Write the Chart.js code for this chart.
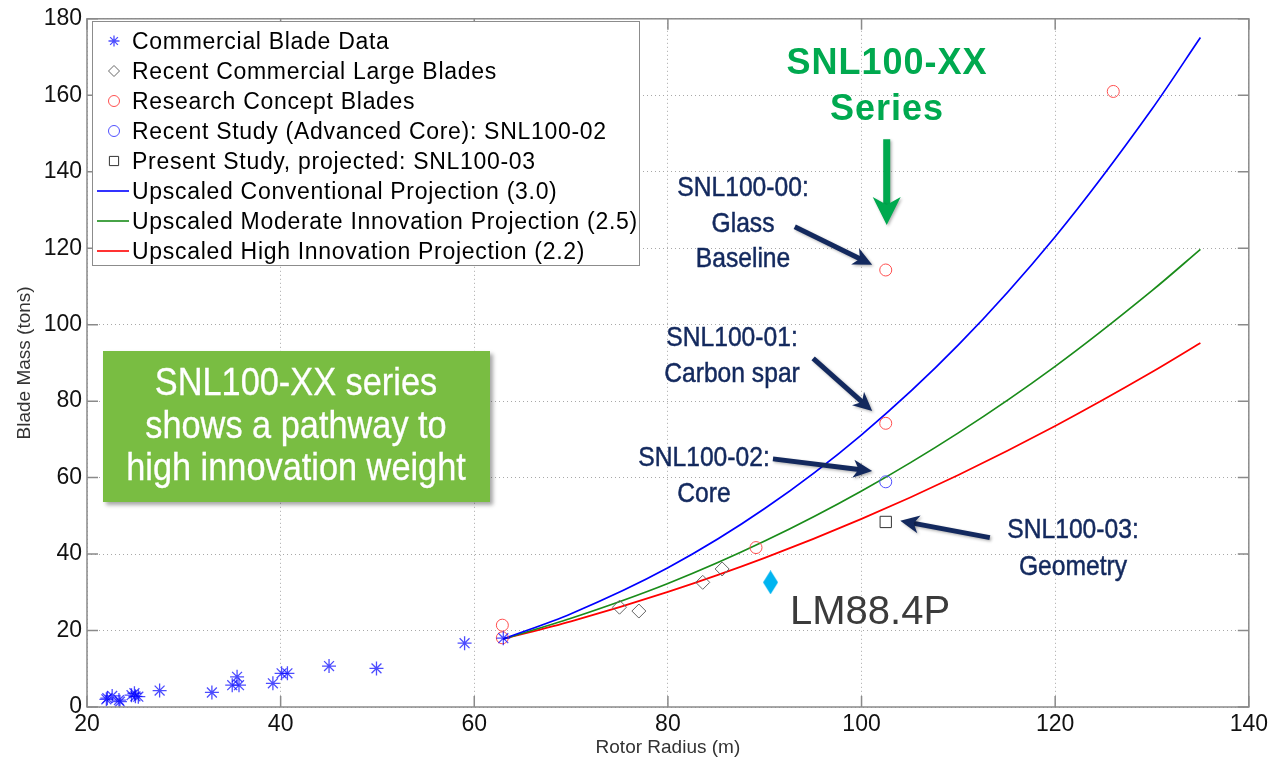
<!DOCTYPE html>
<html>
<head>
<meta charset="utf-8">
<title>Blade Mass vs Rotor Radius</title>
<script src="https://cdn.jsdelivr.net/npm/chart.js@4.4.1/dist/chart.umd.min.js"></script>
<style>
  html, body { margin: 0; padding: 0; background: #fff; }
  #wrap { position: relative; width: 1272px; height: 757px; overflow: hidden; }
  #chart { position: absolute; left: 0; top: 0; }
  .note {
    position: absolute; text-align: center; white-space: nowrap;
    font-family: "Liberation Sans", Arial, sans-serif;
    transform: translateX(-50%) scaleX(0.88); transform-origin: 50% 50%;
  }
  .navy { color: #13295e; font-size: 28px; line-height: 36px; -webkit-text-stroke: 0.5px #13295e; }
  .series { color: #00a94f; font-size: 36px; line-height: 46px; font-weight: bold; letter-spacing: 1px; transform: translateX(-50%); }
  #callout {
    position: absolute; left: 103px; top: 351px; width: 387px; height: 151px;
    background: #79bd42; box-shadow: 3px 3px 4px rgba(0,0,0,0.35);
  }
  .white { color: #fff; font-size: 39px; line-height: 42.5px; -webkit-text-stroke: 0.3px #fff; }
  #lm { position: absolute; left: 790px; top: 590px; font: 40px/40px "Liberation Sans", Arial, sans-serif; color: #3b3b3b; }
  #legend {
    position: absolute; left: 92px; top: 21px; width: 548px; height: 245px;
    box-sizing: border-box; border: 1px solid #8c8c8c; background: #fff; padding-top: 4px;
  }
  .row { display: flex; align-items: center; height: 30px; }
  .row canvas { display: block; }
  .row span { margin-left: 2px; font: 23px "Liberation Sans", Arial, sans-serif; letter-spacing: 0.7px; color: #000; white-space: nowrap; }
</style>
</head>
<body>
<div id="wrap">
  <canvas id="chart" width="1272" height="757"></canvas>
  <div id="legend"></div>

  <div class="note series" style="left:887px; top:39px;">SNL100-XX<br>Series</div>
  <div class="note navy" style="left:743px; top:169px; line-height:35.5px;">SNL100-00:<br>Glass<br>Baseline</div>
  <div class="note navy" style="left:732px; top:319px;">SNL100-01:<br>Carbon spar</div>
  <div class="note navy" style="left:704px; top:439px;">SNL100-02:<br>Core</div>
  <div class="note navy" style="left:1073px; top:510px; line-height:37px;">SNL100-03:<br>Geometry</div>

  <div id="callout"></div>
  <div class="note white" style="left:296px; top:361px;">SNL100-XX series<br>shows a pathway to<br>high innovation weight</div>

  <div id="lm">LM88.4P</div>
</div>

<script>
// axis ticks
const xTicks = [20, 40, 60, 80, 100, 120, 140];
const yTicks = [0, 20, 40, 60, 80, 100, 120, 140, 160, 180];

// commercial blades (rotor radius m, blade mass tons)
const bladeRadius = [22.1, 22.6, 22.0, 23.3, 23.4, 24.6, 24.9, 25.0, 25.3, 27.5, 32.9, 35.0, 35.5, 35.7, 39.2, 40.1, 40.7, 45.0, 49.9, 59.0, 63.0];
const bladeMass   = [2.3, 2.9, 2.0, 1.8, 1.4, 3.1, 3.6, 2.8, 2.7, 4.3, 3.8, 5.7, 7.9, 5.7, 6.2, 8.8, 8.8, 10.7, 10.1, 16.7, 18.0];

const largeRadius = [75.0, 77.0, 83.6, 85.6];
const largeMass   = [26.1, 25.1, 32.6, 36.1];

const conceptRadius = [62.9, 62.9, 89.1, 102.5, 102.5, 126.0];
const conceptMass   = [21.4, 18.1, 41.7, 114.3, 74.2, 161.0];

const coreRadius = [102.5];
const coreMass   = [58.9];

const geometryRadius = [102.5];
const geometryMass   = [48.4];

const lmRadius = [90.6];
const lmMass   = [32.6];

// upscaled projections
const projRadius       = [63, 70, 80, 90, 100, 110, 120, 130, 135];
const conventionalMass = [17.8, 24.4, 36.4, 51.9, 71.2, 94.7, 123.0, 156.4, 175.1];
const moderateMass     = [17.8, 23.2, 32.3, 43.4, 56.5, 71.7, 89.1, 108.9, 119.7];
const highMass         = [17.8, 22.4, 30.1, 39.0, 49.2, 60.7, 73.5, 87.6, 95.2];

// callout arrows, in data units [radius, mass]
const arrows = [
  { from: [93.1, 125.6], to: [101.1, 115.7], color: "#13295e", width: 5, head: 19, half: 9 },
  { from: [95.0, 91.2], to: [101.1, 77.4], color: "#13295e", width: 5, head: 19, half: 9 },
  { from: [90.85, 64.9], to: [101.1, 61.7], color: "#13295e", width: 5, head: 19, half: 9 },
  { from: [113.25, 44.3], to: [104.0, 48.7], color: "#13295e", width: 5, head: 19, half: 9 },
  { from: [102.6, 148.5], to: [102.6, 126.1], color: "#00a94f", width: 7, head: 28, half: 14 }
];

const pts = (xs, ys) => xs.map((x, i) => ({ x, y: ys[i] }));

function makeDiamond(w, h, color) {
  const c = document.createElement("canvas");
  c.width = w; c.height = h;
  const g = c.getContext("2d");
  g.fillStyle = color;
  g.beginPath();
  g.moveTo(w / 2, 0); g.lineTo(w, h / 2); g.lineTo(w / 2, h); g.lineTo(0, h / 2);
  g.closePath(); g.fill();
  return c;
}

const marker = (label, data, style, radius, color, width) => ({
  label, data, pointStyle: style, pointRadius: radius, pointHoverRadius: radius,
  borderColor: color, backgroundColor: "rgba(0,0,0,0)", pointBorderWidth: width, borderWidth: width, showLine: false
});
const curve = (label, data, color) => ({
  label, data, showLine: true, pointRadius: 0, borderColor: color, backgroundColor: color,
  borderWidth: 1.7, cubicInterpolationMode: "monotone", fill: false, pointStyle: "line"
});

const datasets = [
  marker("Commercial Blade Data", pts(bladeRadius, bladeMass), "star", 7, "rgba(0,0,255,0.7)", 1.3),
  marker("Recent Commercial Large Blades", pts(largeRadius, largeMass), "rectRot", 7, "#666", 1),
  marker("Research Concept Blades", pts(conceptRadius, conceptMass), "circle", 6, "#ff5050", 1),
  marker("Recent Study (Advanced Core): SNL100-02", pts(coreRadius, coreMass), "circle", 6, "#5050ff", 1),
  marker("Present Study, projected: SNL100-03", pts(geometryRadius, geometryMass), "rect", 8, "#333", 1),
  curve("Upscaled Conventional Projection (3.0)", pts(projRadius, conventionalMass), "#0000ff"),
  curve("Upscaled Moderate Innovation Projection (2.5)", pts(projRadius, moderateMass), "#1a8c1a"),
  curve("Upscaled High Innovation Projection (2.2)", pts(projRadius, highMass), "#ff0000"),
  { label: "LM88.4P", data: pts(lmRadius, lmMass), pointStyle: makeDiamond(15, 24, "#00b4f0"),
    pointRadius: 8, showLine: false, noLegend: true }
];

function drawArrow(ctx, x1, y1, x2, y2, o) {
  const ang = Math.atan2(y2 - y1, x2 - x1), len = Math.hypot(x2 - x1, y2 - y1);
  ctx.save();
  ctx.translate(x1, y1); ctx.rotate(ang);
  ctx.shadowColor = "rgba(0,0,0,0.3)"; ctx.shadowBlur = 3; ctx.shadowOffsetX = 1.5; ctx.shadowOffsetY = 1.5;
  ctx.strokeStyle = o.color; ctx.fillStyle = o.color; ctx.lineWidth = o.width;
  ctx.beginPath(); ctx.moveTo(0, 0); ctx.lineTo(len - o.head * 0.6, 0); ctx.stroke();
  ctx.beginPath();
  ctx.moveTo(len, 0); ctx.lineTo(len - o.head, -o.half); ctx.lineTo(len - o.head * 0.72, 0); ctx.lineTo(len - o.head, o.half);
  ctx.closePath(); ctx.fill();
  ctx.restore();
}

const framePlugin = {
  id: "frame",
  afterDatasetsDraw(chart) {
    const { ctx, chartArea: a, scales: { x, y } } = chart;
    ctx.save();
    ctx.strokeStyle = "#8a8a8a"; ctx.lineWidth = 1.5;
    ctx.beginPath();
    x.ticks.forEach(t => {
      const px = x.getPixelForValue(t.value);
      ctx.moveTo(px, a.bottom); ctx.lineTo(px, a.bottom - 11);
      ctx.moveTo(px, a.top); ctx.lineTo(px, a.top + 11);
    });
    y.ticks.forEach(t => {
      const py = y.getPixelForValue(t.value);
      ctx.moveTo(a.left, py); ctx.lineTo(a.left + 11, py);
      ctx.moveTo(a.right, py); ctx.lineTo(a.right - 11, py);
    });
    ctx.stroke();
    ctx.strokeRect(a.left, a.top, a.right - a.left, a.bottom - a.top);
    ctx.restore();

    arrows.forEach(ar => {
      drawArrow(ctx, x.getPixelForValue(ar.from[0]), y.getPixelForValue(ar.from[1]),
        x.getPixelForValue(ar.to[0]), y.getPixelForValue(ar.to[1]), ar);
    });
  }
};

const tickFont = { family: "'Liberation Sans', Arial, sans-serif", size: 23 };
const titleFont = { family: "'Liberation Sans', Arial, sans-serif", size: 19, lineHeight: 1 };

const chart = new Chart(document.getElementById("chart"), {
  type: "scatter",
  data: { datasets },
  options: {
    responsive: false,
    animation: false,
    devicePixelRatio: 1,
    layout: { padding: { top: 16, right: 23, left: 0, bottom: 0 } },
    plugins: { legend: { display: false }, tooltip: { enabled: false } },
    scales: {
      x: {
        type: "linear", min: 20, max: 140,
        afterBuildTicks: s => { s.ticks = xTicks.map(v => ({ value: v })); },
        afterFit: s => { s.height = 50; },
        ticks: { font: tickFont, color: "#111", padding: 4, maxRotation: 0 },
        grid: { color: "#a8a8a8", drawTicks: false, lineWidth: 1 },
        border: { display: false, dash: [1, 3] },
        title: { display: true, text: "Rotor Radius (m)", font: titleFont, color: "#333", padding: { top: 0, bottom: 0 } }
      },
      y: {
        type: "linear", min: 0, max: 180,
        afterBuildTicks: s => { s.ticks = yTicks.map(v => ({ value: v })); },
        afterFit: s => { s.width = 87; },
        ticks: { font: tickFont, color: "#111", padding: 5 },
        grid: { color: "#a8a8a8", drawTicks: false, lineWidth: 1 },
        border: { display: false, dash: [1, 3] },
        title: { display: true, text: "Blade Mass (tons)", font: titleFont, color: "#333", padding: { top: 15.5, bottom: 0 } }
      }
    }
  },
  plugins: [framePlugin]
});

// legend inside the axes, MATLAB style
const legendEl = document.getElementById("legend");
chart.data.datasets.filter(d => !d.noLegend).forEach(d => {
  const row = document.createElement("div");
  row.className = "row";
  const c = document.createElement("canvas");
  c.width = 37; c.height = 30;
  const g = c.getContext("2d");
  g.strokeStyle = d.borderColor;
  g.fillStyle = "rgba(0,0,0,0)";
  if (d.showLine) {
    g.lineWidth = 1.6;
    g.beginPath(); g.moveTo(4, 15); g.lineTo(36, 15); g.stroke();
  } else {
    g.lineWidth = d.borderWidth;
    const r = d.pointStyle === "rect" ? 6.5 : 5.5;
    Chart.helpers.drawPoint(g, { pointStyle: d.pointStyle, radius: r, borderWidth: d.borderWidth, rotation: 0 }, 21, 15);
  }
  const s = document.createElement("span");
  s.textContent = d.label;
  row.appendChild(c); row.appendChild(s);
  legendEl.appendChild(row);
});
</script>
</body>
</html>
